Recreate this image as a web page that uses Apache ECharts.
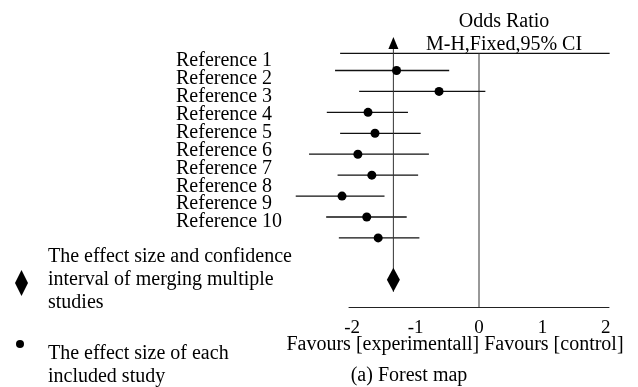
<!DOCTYPE html>
<html><head><meta charset="utf-8">
<script src="https://cdn.jsdelivr.net/npm/echarts@6/dist/echarts.min.js"></script>
<style>html,body{margin:0;padding:0;background:#fff}#c{width:638px;height:387px}</style>
</head><body><div id="c"></div>
<script>
// ---- data ----
const studyLabels = ['Reference 1','Reference 2','Reference 3','Reference 4','Reference 5',
                     'Reference 6','Reference 7','Reference 8','Reference 9','Reference 10'];
const studyRows  = [1, 2, 3, 4, 5, 6, 7, 8, 9];
const studyEst   = [-1.30, -0.63, -1.75, -1.64, -1.91, -1.69, -2.16, -1.77, -1.59];
const studyLow   = [-2.27, -1.89, -2.40, -2.19, -2.68, -2.23, -2.89, -2.41, -2.21];
const studyHigh  = [-0.47,  0.10, -1.12, -0.92, -0.79, -0.96, -1.49, -1.14, -0.94];
const pooledEst  = -1.35;
const pooledRow  = 11;
const xTicks     = [-2, -1, 0, 1, 2];
const headerRule = [-2.19, 2.06];
const legendPooledText = 'The effect size and confidence\ninterval of merging multiple\nstudies';
const legendStudyText  = 'The effect size of each\nincluded study';
const headerTitle = 'Odds Ratio\nM-H,Fixed,95% CI';
const axisTitle = 'Favours [experimentall] Favours [control]';
const chartCaption = '(a) Forest map';

// ---- layout ----
const FONT = "'Liberation Serif','Times New Roman',serif";
const Y_MIN = -0.6, Y_MAX = 12.3, HEADER_ROW = 0.18;
const txt = (size, lh) => ({fontFamily: FONT, fontSize: size, lineHeight: lh, fontWeight: 'normal', color: '#000'});

const chart = echarts.init(document.getElementById('c'), null, {renderer: 'canvas'});
chart.setOption({
  animation: false,
  backgroundColor: '#fff',
  title: [
    {text: headerTitle, left: 504, top: 10, textAlign: 'center', padding: 0, textStyle: txt(20, 23)},
    {text: axisTitle, left: 455, top: 334, textAlign: 'center', padding: 0, textStyle: txt(20, 22)},
    {text: chartCaption, left: 409, top: 365, textAlign: 'center', padding: 0, textStyle: txt(20, 22)},
    {text: legendPooledText, left: 48, top: 245, padding: 0, textStyle: txt(20, 23)},
    {text: legendStudyText, left: 48, top: 342, padding: 0, textStyle: txt(20, 23)}
  ],
  graphic: [
    {type: 'polygon', shape: {points: [[21.5, 270], [28, 283], [21.5, 296], [15, 283]]}, style: {fill: '#000'}},
    {type: 'circle', shape: {cx: 20, cy: 344, r: 4}, style: {fill: '#000'}}
  ],
  grid: [
    {left: 349, right: 29, top: 37, bottom: 80},
    {left: 300, width: 10, top: 52, height: 179}
  ],
  xAxis: [
    {type: 'value', gridIndex: 0, min: -2.05, max: 2.05,
     axisLine: {show: true, onZero: false, lineStyle: {color: '#222', width: 1}},
     axisTick: {show: false}, splitLine: {show: false},
     axisLabel: {customValues: xTicks, margin: 12, fontFamily: FONT, fontSize: 19, color: '#000'}},
    {type: 'value', gridIndex: 1, show: false}
  ],
  yAxis: [
    {type: 'value', gridIndex: 0, inverse: true, min: Y_MIN, max: Y_MAX, show: false},
    {type: 'category', gridIndex: 1, inverse: true, data: studyLabels,
     axisLine: {show: false}, axisTick: {show: false}, splitLine: {show: false},
     axisLabel: {align: 'left', margin: 124, fontFamily: FONT, fontSize: 20, color: '#000', interval: 0}}
  ],
  series: [
    { // header rule and line of no effect
      type: 'custom', name: 'frame', clip: false, silent: true,
      data: [[headerRule[0], headerRule[1], HEADER_ROW]],
      encode: {x: [0, 1], y: 2},
      renderItem: function (params, api) {
        const a = api.coord([api.value(0), api.value(2)]);
        const b = api.coord([api.value(1), api.value(2)]);
        const z0 = api.coord([0, api.value(2)]);
        const z1 = api.coord([0, Y_MAX]);
        return {type: 'group', children: [
          {type: 'line', shape: {x1: a[0], y1: a[1], x2: b[0], y2: b[1]}, style: {stroke: '#111', lineWidth: 1.3}},
          {type: 'line', shape: {x1: z0[0], y1: z0[1], x2: z1[0], y2: z1[1]}, style: {stroke: '#333', lineWidth: 1}}
        ]};
      }
    },
    { // confidence intervals
      type: 'custom', name: 'CI', clip: false,
      data: studyRows.map((r, i) => [studyLow[i], studyHigh[i], r]),
      encode: {x: [0, 1], y: 2},
      renderItem: function (params, api) {
        const a = api.coord([api.value(0), api.value(2)]);
        const b = api.coord([api.value(1), api.value(2)]);
        return {type: 'line', shape: {x1: a[0], y1: a[1], x2: b[0], y2: b[1]},
                style: {stroke: '#111', lineWidth: 1.3}};
      }
    },
    { // study effect sizes
      type: 'scatter', name: 'study', clip: false,
      data: studyRows.map((r, i) => [studyEst[i], r]),
      symbol: 'circle', symbolSize: 9, itemStyle: {color: '#000', opacity: 1}
    },
    { // pooled effect: vertical line with arrow and diamond
      type: 'custom', name: 'pooled', clip: false,
      data: [[pooledEst, pooledRow]],
      renderItem: function (params, api) {
        const p = api.coord([api.value(0), api.value(1)]);
        const t = api.coord([api.value(0), Y_MIN]);
        const x = p[0];
        return {type: 'group', children: [
          {type: 'line', shape: {x1: x, y1: t[1] + 6, x2: x, y2: p[1] + 12}, style: {stroke: '#333', lineWidth: 1}},
          {type: 'polygon', shape: {points: [[x, t[1]], [x + 5, t[1] + 12], [x - 5, t[1] + 12]]}, style: {fill: '#000'}},
          {type: 'polygon', shape: {points: [[x, p[1] - 12], [x + 6.5, p[1]], [x, p[1] + 12], [x - 6.5, p[1]]]}, style: {fill: '#000'}}
        ]};
      }
    }
  ]
});
</script></body></html>
